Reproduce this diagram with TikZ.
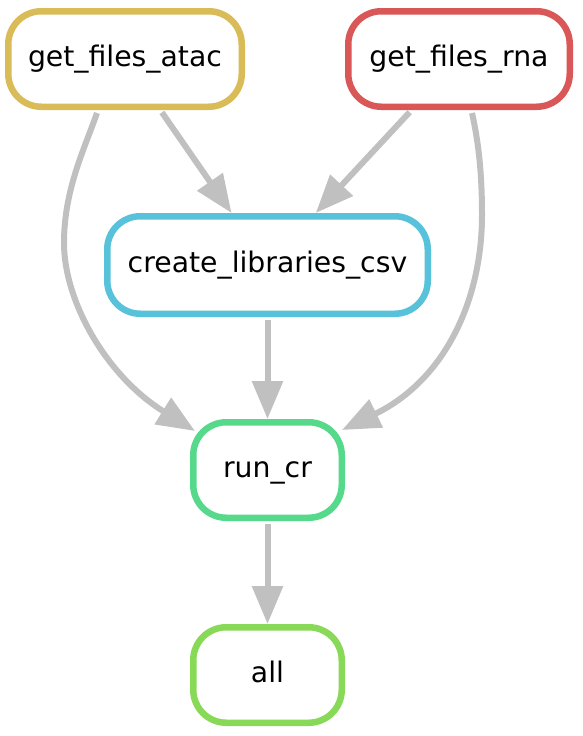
\documentclass[tikz,border=0pt]{standalone}
\usepackage{fontspec}
\setmainfont{DejaVu Sans}
\usetikzlibrary{arrows.meta}
\definecolor{cAtac}{RGB}{217,188,87}
\definecolor{cRna}{RGB}{217,87,87}
\definecolor{cCsv}{RGB}{87,194,217}
\definecolor{cRun}{RGB}{87,217,139}
\definecolor{cAll}{RGB}{136,217,87}
\definecolor{cEdge}{RGB}{192,192,192}
\tikzset{
  rule/.style={draw=#1, line width=6.5pt, rounded corners=33pt, fill=white,
    inner sep=0pt, minimum height=95.5pt, text height=20.5pt, text depth=5.5pt,
    font=\fontsize{28.3pt}{33pt}\selectfont},
  edge/.style={draw=cEdge, line width=6pt, -{Triangle[length=38pt,width=30pt]}},
}
\begin{document}
\begin{tikzpicture}[x=1pt,y=-1pt]
\useasboundingbox (0,0) rectangle (583,736);
\node[rule=cAtac, minimum width=233.5pt] (atac) at (125,59) {get\_files\_atac};
\node[rule=cRna, minimum width=221.5pt] (rna) at (459,59) {get\_files\_rna};
\node[rule=cCsv, minimum width=320.5pt, minimum height=97.5pt] (csv) at (267.5,265) {create\_libraries\_csv};
\node[rule=cRun, minimum width=148.5pt] (run) at (267.5,470) {run\_cr};
\node[rule=cAll, minimum width=148.5pt] (all) at (267.5,675) {all};

\draw[edge, shorten <=3pt] (atac) -- (csv);
\draw[edge, shorten <=3pt] (rna) -- (csv);
\draw[edge, shorten <=3pt] (csv) -- (run);
\draw[edge, shorten <=3pt] (run) -- (all);
\draw[edge] ([shift={(-28,3)}]atac.south) .. controls (84,150) and (64,190) .. (64,243)
  .. controls (64,300) and (105,375) .. ([shift={(5,12)}]run.north west);
\draw[edge] ([shift={(13,3)}]rna.south) .. controls (478,140) and (482,170) .. (482,215)
  .. controls (482,300) and (445,380) .. ([shift={(-3,11)}]run.north east);
\end{tikzpicture}
\end{document}
